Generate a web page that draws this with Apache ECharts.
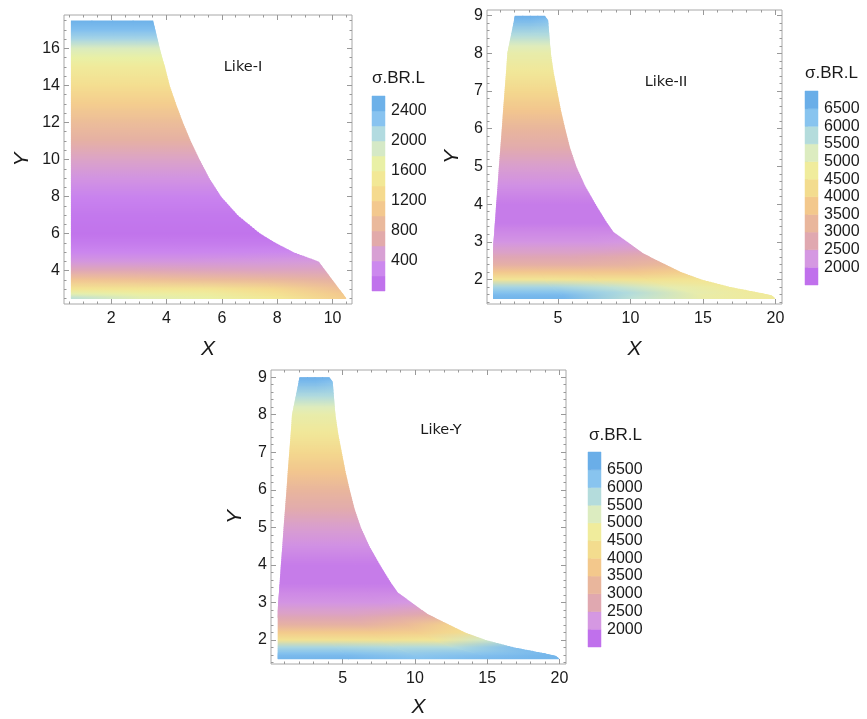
<!DOCTYPE html>
<html><head><meta charset="utf-8">
<script src="https://cdn.jsdelivr.net/npm/echarts@6/dist/echarts.min.js"></script>
<style>html,body{margin:0;padding:0;background:#fff}#c{width:867px;height:719px}</style>
</head><body><div id="c"></div>
<script>
// ---------- DATA ----------
// column positions across each row, as fractions of the row width (left edge -> right edge)
const colFractions = [0, 0.25, 0.5, 0.75, 1];

// Like-I
const likeI_y      = [17.5, 17, 16.5, 16, 15.5, 15, 14, 13, 12, 11, 10, 9, 8, 7, 6, 5.5, 5, 4.5, 4, 3.5, 3, 2.75, 2.5];
const likeI_xLeft  = [0.55,0.55,0.55,0.55,0.55,0.55,0.55,0.55,0.55,0.55,0.55,0.55,0.55,0.55,0.55,0.55,0.55,0.55,0.55,0.55,0.55,0.55,0.55];
const likeI_xRight = [3.52, 3.6, 3.68, 3.76, 3.85, 3.95, 4.12, 4.35, 4.6, 4.88, 5.2, 5.55, 5.98, 6.58, 7.4, 7.95, 8.6, 9.5, 9.75, 10.0, 10.25, 10.38, 10.5];
const likeI_sigma = [
  [2500,2500,2500,2500,2500],
  [2350,2350,2350,2350,2350],
  [2150,2150,2150,2150,2150],
  [1850,1850,1850,1850,1850],
  [1700,1700,1700,1700,1700],
  [1550,1550,1550,1550,1550],
  [1350,1350,1350,1350,1350],
  [1150,1150,1150,1150,1150],
  [950,950,950,950,950],
  [780,780,780,780,780],
  [560,560,560,560,560],
  [400,400,400,400,400],
  [250,250,250,250,250],
  [150,150,150,150,150],
  [120,120,120,120,120],
  [180,180,180,180,180],
  [280,280,280,290,300],
  [420,420,420,430,450],
  [650,650,620,600,600],
  [1050,1000,950,900,800],
  [1450,1450,1450,1300,1000],
  [1750,1650,1600,1400,1100],
  [2050,1800,1700,1500,1150]
];
const likeI_legendBreaks = [0,200,400,600,800,1000,1200,1400,1600,1800,2000,2200,2400,2600];
const likeI_legendTicks  = [400,800,1200,1600,2000,2400];
const likeI_palette = ['#c072ec','#cc88ee','#d8a0d4','#e2aaaa','#eab99c','#f3c88e','#f5da8e','#f2e896','#e9f0a6','#d5e9c6','#b2dbe0','#88c3f0','#6db1e9'];

// Like-II
const likeII_y      = [9, 8.88, 8.5, 8.2, 8, 7.5, 7, 6.5, 6, 5.5, 5, 4.5, 4, 3.5, 3.27, 3.0, 2.8, 2.69, 2.6, 2.4, 2.2, 2.0, 1.8, 1.65, 1.58, 1.5];
const likeII_xLeft  = [2.02,1.96,1.76,1.6,1.5,1.41,1.31,1.21,1.12,1.02,0.92,0.83,0.73,0.64,0.6,0.54,0.52,0.52,0.52,0.52,0.52,0.52,0.52,0.52,0.52,0.52];
const likeII_xRight = [4.09,4.32,4.4,4.46,4.51,4.7,4.95,5.2,5.5,5.83,6.27,6.86,7.6,8.4,8.82,9.79,10.5,10.9,11.38,12.44,13.5,14.94,16.94,18.96,19.75,20.0];
const likeII_sigma = [
  [6700,6700,6700,6700,6700],
  [6500,6500,6500,6400,6300],
  [5800,5800,5800,5800,5800],
  [5200,5200,5200,5200,5200],
  [4950,4950,4950,4950,4950],
  [4600,4600,4600,4600,4600],
  [4150,4150,4150,4150,4150],
  [3700,3700,3700,3700,3700],
  [3250,3250,3250,3250,3250],
  [2850,2850,2850,2850,2850],
  [2450,2450,2450,2450,2450],
  [2150,2150,2150,2150,2150],
  [1900,1900,1900,1900,1900],
  [1900,1900,1900,1900,1900],
  [2050,2050,2050,2050,2050],
  [2200,2200,2200,2200,2250],
  [2450,2450,2450,2450,2500],
  [2550,2550,2550,2600,2700],
  [2700,2700,2700,2800,2900],
  [3000,3000,3000,3100,3300],
  [3700,3700,3700,3700,3900],
  [4500,4500,4400,4400,4500],
  [5900,5900,5600,5000,4700],
  [6300,6300,5800,5000,4700],
  [6500,6500,5700,4900,4700],
  [6600,6600,5600,4900,4700]
];
const likeII_legendBreaks = [1500,2000,2500,3000,3500,4000,4500,5000,5500,6000,6500,7000];
const likeII_legendTicks  = [2000,2500,3000,3500,4000,4500,5000,5500,6000,6500];
const likeII_palette = ['#c070ec','#d598e2','#e0a8b0','#e9b69c','#f3c88c','#f3dc8e','#f0ec9c','#dcecc0','#b4dcdc','#88c4ef','#6aaee8'];

// Like-Y (same region as Like-II)
const likeY_y      = likeII_y;
const likeY_xLeft  = likeII_xLeft;
const likeY_xRight = likeII_xRight;
const likeY_sigma = [
  [6700,6700,6700,6700,6700],
  [6500,6500,6500,6400,6300],
  [5800,5800,5800,5800,5800],
  [5200,5200,5200,5200,5200],
  [4950,4950,4950,4950,4950],
  [4600,4600,4600,4600,4600],
  [4150,4150,4150,4150,4150],
  [3700,3700,3700,3700,3700],
  [3250,3250,3250,3250,3250],
  [2850,2850,2850,2850,2850],
  [2450,2450,2450,2450,2450],
  [2150,2150,2150,2150,2150],
  [1900,1900,1900,1900,1900],
  [1900,1900,1900,1900,1900],
  [2050,2050,2050,2050,2050],
  [2200,2200,2200,2200,2250],
  [2450,2450,2450,2500,2600],
  [2550,2550,2550,2650,2800],
  [2700,2700,2700,2900,3100],
  [3100,3100,3100,3400,4000],
  [3800,3800,3800,3900,4300],
  [4400,4400,4400,4500,5400],
  [5900,5900,5800,5800,6400],
  [6300,6300,6100,6200,6500],
  [6500,6500,6200,6400,6600],
  [6600,6600,6300,6500,6600]
];
const likeY_legendBreaks = likeII_legendBreaks;
const likeY_legendTicks  = likeII_legendTicks;
const likeY_palette = likeII_palette;

// axis ticks
const xTicksI = [2,4,6,8,10];
const yTicksI = [4,6,8,10,12,14,16];
const xTicksII = [5,10,15,20];
const yTicksII = [2,3,4,5,6,7,8,9];

// ---------- BUILD ----------
function minorList(from, to, step, majors){
  const out=[]; for(let v=from; v<=to+1e-9; v+=step){ const r=Math.round(v*100)/100; if(majors.indexOf(r)<0) out.push(r);} return out;
}
function meshData(ys, xl, xr, vals){
  const d=[];
  for(let i=0;i<ys.length;i++) for(let j=0;j<colFractions.length;j++){
    const s=colFractions[j];
    d.push([i, j, xl[i]+s*(xr[i]-xl[i]), ys[i], vals[i][j]]);
  }
  return d;
}
const NC = colFractions.length;
function makeRender(nRows){
  return function(params, api){
    const idx = params.dataIndexInside;
    const i = api.value(0), j = api.value(1);
    if (i >= nRows-1 || j >= NC-1) return null;
    const a=idx, b=idx+1, c=idx+NC, d=idx+NC+1;
    const P = k => api.coord([api.value(2,k), api.value(3,k)]);
    const C = k => api.visual('color', k);
    const pa=P(a), pb=P(b), pc=P(c), pd=P(d);
    const ca=C(a), cb=C(b), cc=C(c), cd=C(d);
    const lp=(p,q,t)=>[p[0]+(q[0]-p[0])*t, p[1]+(q[1]-p[1])*t];
    const K=10, children=[];
    const padR = (j < NC-2) ? 0.9 : 0;
    for(let t=0;t<K;t++){
      const t0=t/K, t1=(t+1)/K, tm=(t+0.5)/K;
      const L0=lp(pa,pc,t0), R0=lp(pb,pd,t0), L1=lp(pa,pc,t1), R1=lp(pb,pd,t1);
      const padB = (i === nRows-2 && t === K-1) ? 0 : 0.9;
      R0[0]+=padR; R1[0]+=padR; L1[1]+=padB; R1[1]+=padB;
      const cl=echarts.color.lerp(tm,[ca,cc]), cr=echarts.color.lerp(tm,[cb,cd]);
      const x0=(L0[0]+L1[0])/2, x1=(R0[0]+R1[0])/2 - padR;
      const g=new echarts.graphic.LinearGradient(x0,0,x1,0,[{offset:0,color:cl},{offset:1,color:cr}],true);
      children.push({type:'polygon', shape:{points:[L0,R0,R1,L1]}, style:{fill:g}});
    }
    return {type:'group', children};
  };
}
function legendData(breaks){ const d=[]; for(let k=0;k<breaks.length-1;k++) d.push([0.5, breaks[k], breaks[k+1]]); return d; }
function legendRender(palette){
  return function(params, api){
    const lo=api.value(1), hi=api.value(2);
    const p0=api.coord([0,lo]), p1=api.coord([1,hi]);
    const col=palette[params.dataIndexInside];
    return {type:'rect', shape:{x:p0[0], y:p1[1], width:p1[0]-p0[0], height:p0[1]-p1[1]}, style:{fill:col, stroke:col, lineWidth:0.5}};
  };
}

const FRAME='#a8a8a8', TICK='#999', LBL='#1a1a1a', FONT='Liberation Sans, Arial, sans-serif';
const plain = v => String(v);

const panels = [
  {grid:{left:64, top:15, width:288, height:289}, xr:[0.3,10.7], yr:[2.2,17.8], xt:xTicksI, yt:yTicksI,
   xm:minorList(0.5,10.5,0.5,xTicksI), ym:minorList(2.5,17.5,0.5,yTicksI), xGap:35, yGap:31,
   lg:{left:372, top:96, width:13, height:195}, breaks:likeI_legendBreaks, lt:likeI_legendTicks, pal:likeI_palette,
   data:meshData(likeI_y,likeI_xLeft,likeI_xRight,likeI_sigma), n:likeI_y.length},
  {grid:{left:487, top:10, width:295, height:294}, xr:[0.1,20.45], yr:[1.35,9.15], xt:xTicksII, yt:yTicksII,
   xm:minorList(1,20,1,xTicksII), ym:minorList(1.4,9,0.2,yTicksII), xGap:35, yGap:24,
   lg:{left:805, top:91, width:13, height:194}, breaks:likeII_legendBreaks, lt:likeII_legendTicks, pal:likeII_palette,
   data:meshData(likeII_y,likeII_xLeft,likeII_xRight,likeII_sigma), n:likeII_y.length},
  {grid:{left:271, top:370, width:295, height:296}, xr:[0.05,20.45], yr:[1.36,9.19], xt:xTicksII, yt:yTicksII,
   xm:minorList(1,20,1,xTicksII), ym:minorList(1.4,9,0.2,yTicksII), xGap:33, yGap:25,
   lg:{left:588, top:452, width:13, height:195}, breaks:likeY_legendBreaks, lt:likeY_legendTicks, pal:likeY_palette,
   data:meshData(likeY_y,likeY_xLeft,likeY_xRight,likeY_sigma), n:likeY_y.length}
];

const grid=[], xAxis=[], yAxis=[], series=[], visualMap=[];
panels.forEach((p,k)=>{
  grid.push(Object.assign({show:true, borderColor:FRAME, borderWidth:1, backgroundColor:'#fff'}, p.grid));
});
panels.forEach((p,k)=>{
  grid.push(Object.assign({show:false}, p.lg));
});
panels.forEach((p,k)=>{
  const base={gridIndex:k, type:'value', min:p.xr[0], max:p.xr[1], axisLine:{show:false}, splitLine:{show:false}};
  p.xMain = xAxis.length;
  xAxis.push(Object.assign({}, base, {position:'bottom',
    axisTick:{show:true, inside:true, length:5, customValues:p.xt, lineStyle:{color:TICK}},
    axisLabel:{show:true, customValues:p.xt, formatter:plain, fontSize:16, color:LBL, fontFamily:FONT, margin:7},
    name:'X', nameLocation:'middle', nameGap:p.xGap,
    nameTextStyle:{fontStyle:'italic', fontSize:21, color:LBL, fontFamily:FONT}}));
  xAxis.push(Object.assign({}, base, {position:'bottom', axisTick:{show:true, inside:true, length:2.5, customValues:p.xm, lineStyle:{color:TICK}}, axisLabel:{show:false}}));
  xAxis.push(Object.assign({}, base, {position:'top', axisTick:{show:true, inside:true, length:5, customValues:p.xt, lineStyle:{color:TICK}}, axisLabel:{show:false}}));
  xAxis.push(Object.assign({}, base, {position:'top', axisTick:{show:true, inside:true, length:2.5, customValues:p.xm, lineStyle:{color:TICK}}, axisLabel:{show:false}}));
  const ybase={gridIndex:k, type:'value', min:p.yr[0], max:p.yr[1], axisLine:{show:false}, splitLine:{show:false}};
  p.yMain = yAxis.length;
  yAxis.push(Object.assign({}, ybase, {position:'left',
    axisTick:{show:true, inside:true, length:5, customValues:p.yt, lineStyle:{color:TICK}},
    axisLabel:{show:true, customValues:p.yt, formatter:plain, fontSize:16, color:LBL, fontFamily:FONT, margin:4},
    name:'Y', nameLocation:'middle', nameGap:p.yGap, nameRotate:90,
    nameTextStyle:{fontStyle:'italic', fontSize:21, color:LBL, fontFamily:FONT}}));
  yAxis.push(Object.assign({}, ybase, {position:'left', axisTick:{show:true, inside:true, length:2.5, customValues:p.ym, lineStyle:{color:TICK}}, axisLabel:{show:false}}));
  yAxis.push(Object.assign({}, ybase, {position:'right', axisTick:{show:true, inside:true, length:5, customValues:p.yt, lineStyle:{color:TICK}}, axisLabel:{show:false}}));
  yAxis.push(Object.assign({}, ybase, {position:'right', axisTick:{show:true, inside:true, length:2.5, customValues:p.ym, lineStyle:{color:TICK}}, axisLabel:{show:false}}));
});
panels.forEach((p,k)=>{
  p.lx = xAxis.length;
  xAxis.push({gridIndex:3+k, type:'value', min:0, max:1, show:false});
  p.ly = yAxis.length;
  yAxis.push({gridIndex:3+k, type:'value', min:p.breaks[0], max:p.breaks[p.breaks.length-1], position:'right',
    axisLine:{show:false}, splitLine:{show:false},
    axisTick:{show:true, length:3, customValues:p.lt, lineStyle:{color:'#aaa'}},
    axisLabel:{show:true, customValues:p.lt, formatter:plain, fontSize:16, color:LBL, fontFamily:FONT, margin:6}});
});
panels.forEach((p,k)=>{
  series.push({type:'custom', xAxisIndex:p.xMain, yAxisIndex:p.yMain, data:p.data, encode:{x:2, y:3},
    renderItem:makeRender(p.n), silent:true, clip:false, animation:false});
  const nb=p.pal.length, step=(p.breaks[1]-p.breaks[0]);
  visualMap.push({type:'continuous', show:false, seriesIndex:k, dimension:4,
    min:p.breaks[0]+step/2, max:p.breaks[nb]-step/2, inRange:{color:p.pal}});
});
panels.forEach((p,k)=>{
  series.push({type:'custom', xAxisIndex:p.lx, yAxisIndex:p.ly, data:legendData(p.breaks), encode:{x:0, y:[1,2]},
    renderItem:legendRender(p.pal), silent:true, animation:false});
});

const txt=(x,y,t,size,fam,align)=>({type:'text', x:x, y:y, style:{text:t, fontSize:size, fontFamily:fam, fill:LBL, textAlign:align||'left', textVerticalAlign:'middle'}});
const graphic=[
  txt(372,78,'σ.BR.L',17,FONT), txt(805,73,'σ.BR.L',17,FONT), txt(589,435,'σ.BR.L',17,FONT),
  txt(243,67,'Like-I',14.5,'DejaVu Sans','center'), txt(666,82,'Like-II',14.5,'DejaVu Sans','center'), txt(441,430,'Like-Y',14.5,'DejaVu Sans','center')
];

const chart=echarts.init(document.getElementById('c'), null, {renderer:'canvas'});
chart.setOption({animation:false, backgroundColor:'#fff', grid, xAxis, yAxis, series, visualMap, graphic});
</script></body></html>
